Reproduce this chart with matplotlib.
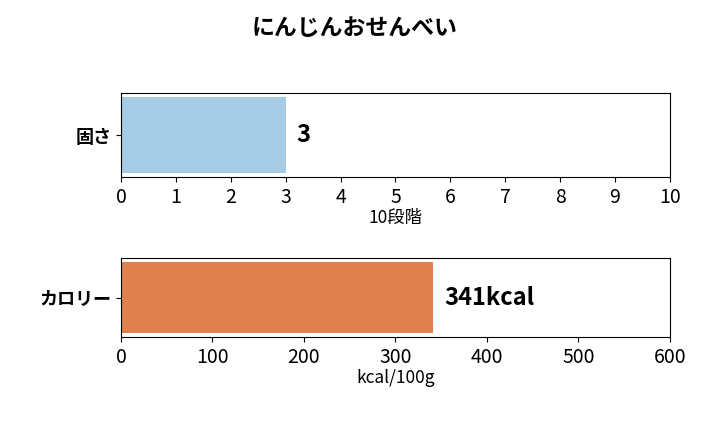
import matplotlib
matplotlib.use("Agg")
import matplotlib.pyplot as plt

plt.rcParams['font.family'] = ['Noto Sans CJK JP', 'DejaVu Sans']

title = "にんじんおせんべい"
cat1 = ["固さ"]; val1 = [3]; lab1 = ["3"]
cat2 = ["カロリー"]; val2 = [341]; lab2 = ["341kcal"]

fig = plt.figure(figsize=(7.09, 4.26), dpi=100)
fig.suptitle(title, fontsize=16.5, fontweight='bold', y=0.96)

ax1 = fig.add_axes([0.1707, 0.5845, 0.774, 0.197])
ax1.barh(cat1, val1, height=0.9, color='#a6cbe5')
ax1.set_xlim(0, 10); ax1.set_ylim(-0.5, 0.5)
ax1.set_xticks(range(0, 11))
ax1.set_xlabel("10段階", fontsize=12.5, labelpad=1)
ax1.text(val1[0] + 0.2, 0, lab1[0], va='center', ha='left', fontsize=17, fontweight='bold')

ax2 = fig.add_axes([0.1707, 0.209, 0.774, 0.185])
ax2.barh(cat2, val2, height=0.9, color='#e0804c')
ax2.set_xlim(0, 600); ax2.set_ylim(-0.5, 0.5)
ax2.set_xticks(range(0, 601, 100))
ax2.set_xlabel("kcal/100g", fontsize=12.5, labelpad=1)
ax2.text(val2[0] + 12, 0, lab2[0], va='center', ha='left', fontsize=17, fontweight='bold')

for ax in (ax1, ax2):
    ax.tick_params(axis='x', labelsize=14)
    ax.tick_params(axis='y', labelsize=13)
    for t in ax.get_yticklabels():
        t.set_fontweight('bold')

fig.savefig("out.png", dpi=100)
